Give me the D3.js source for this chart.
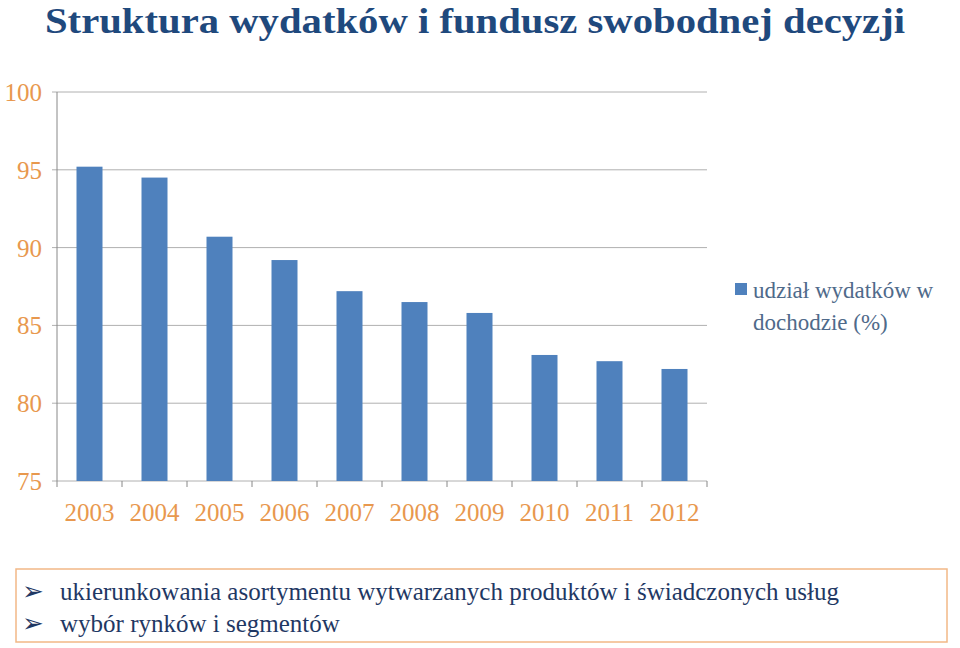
<!DOCTYPE html><html><head><meta charset="utf-8"><script src="https://d3js.org/d3.v7.min.js"></script>
<style>body{margin:0;background:#fff} text{font-family:'Liberation Serif',serif}</style></head><body><svg id="c" width="960" height="648"></svg>
<script>
const years=["2003","2004","2005","2006","2007","2008","2009","2010","2011","2012"];
const shares=[95.2,94.5,90.7,89.2,87.2,86.5,85.8,83.1,82.7,82.2];
const yTicks=[75,80,85,90,95,100];
const seriesName=["udział wydatków w","dochodzie (%)"];
const bullets=["ukierunkowania asortymentu wytwarzanych produktów i świadczonych usług","wybór rynków i segmentów"];
const svg=d3.select("#c");
svg.append("text").attr("x",45).attr("y",33).attr("font-size",36).attr("font-weight","bold").attr("fill","#1F497D").attr("textLength",860).attr("lengthAdjust","spacingAndGlyphs").text("Struktura wydatków i fundusz swobodnej decyzji");
const x=d3.scaleBand().domain(years).range([57,707]).paddingInner(0.6).paddingOuter(0.3);
const y=d3.scaleLinear().domain([75,100]).range([481,92]);
const g=svg.append("g");
g.selectAll("line.g").data(yTicks).join("line").attr("x1",52).attr("x2",707).attr("y1",d=>y(d)).attr("y2",d=>y(d)).attr("stroke","#b0b0b0");
g.append("line").attr("x1",57).attr("x2",57).attr("y1",92).attr("y2",481).attr("stroke","#888");
g.selectAll("line.t").data(d3.range(11)).join("line").attr("x1",d=>57+d*65).attr("x2",d=>57+d*65).attr("y1",481).attr("y2",487).attr("stroke","#888");
g.selectAll("text.y").data(yTicks).join("text").attr("x",42).attr("y",d=>y(d)+9).attr("text-anchor","end").attr("font-size",25).attr("fill","#E8984E").text(d=>d);
g.selectAll("rect").data(shares).join("rect").attr("x",(d,i)=>x(years[i])).attr("width",x.bandwidth()).attr("y",d=>y(d)).attr("height",d=>y(75)-y(d)).attr("fill","#4F81BD");
g.selectAll("text.x").data(years).join("text").attr("x",d=>x(d)+x.bandwidth()/2).attr("y",521).attr("text-anchor","middle").attr("font-size",25).attr("fill","#E8984E").text(d=>d);
svg.append("rect").attr("x",735).attr("y",283).attr("width",12).attr("height",12).attr("fill","#4F81BD");
svg.selectAll("text.l").data(seriesName).join("text").attr("x",753).attr("y",(d,i)=>298+i*32).attr("font-size",23).attr("fill","#4F6A8A").text(d=>d);
svg.append("rect").attr("x",16).attr("y",569).attr("width",931).attr("height",73).attr("fill","none").attr("stroke","#F2B886").attr("stroke-width",1.5);
bullets.forEach((b,i)=>{
 svg.append("text").attr("x",22).attr("y",600+i*32).attr("style","font-family:'DejaVu Sans'").attr("font-size",26).attr("fill","#1F3864").text("➢");
 svg.append("text").attr("x",60).attr("y",600+i*32).attr("font-size",25).attr("fill","#1F3864").text(b);
});
</script></body></html>
